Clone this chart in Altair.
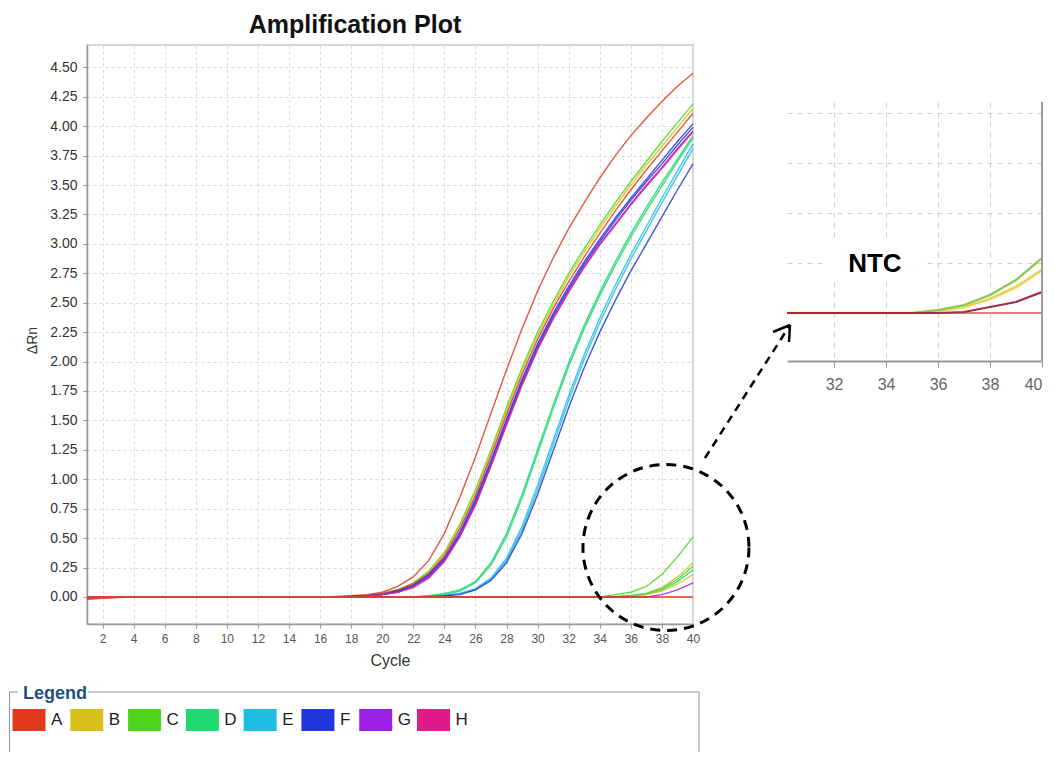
import altair as alt
import pandas as pd

# ---------------- data ----------------
cycles = list(range(1, 41))

rows = ["A", "B", "C", "D", "E", "F", "G", "H"]
row_colors = ["#e2391d", "#d7c11f", "#4fd41d", "#1fd86f", "#1dbde0", "#2036dc", "#9d20e6", "#e01b89"]

Z10 = [0, 0, 0, 0, 0, 0, 0, 0, 0, 0]  # flat baseline, read as 0.00

wells = [
    ("A1", "A", [-0.02, -0.012, -0.006, -0.002, 0, 0, 0, 0, 0, 0,
                 0, 0, 0, 0, 0, 0, 0.004, 0.01, 0.02, 0.04,
                 0.09, 0.17, 0.31, 0.54, 0.85, 1.19, 1.56, 1.93, 2.28, 2.60,
                 2.88, 3.13, 3.35, 3.56, 3.75, 3.92, 4.07, 4.21, 4.34, 4.45]),
    ("C1", "C", [-0.01, -0.005, 0, 0, 0, 0, 0, 0, 0, 0,
                 0, 0, 0, 0, 0, 0, 0, 0.005, 0.01, 0.03,
                 0.06, 0.12, 0.22, 0.38, 0.62, 0.91, 1.25, 1.61, 1.95, 2.25,
                 2.51, 2.75, 2.96, 3.16, 3.35, 3.53, 3.70, 3.87, 4.03, 4.19]),
    ("B1", "B", [0, 0, 0.004, 0.005, 0.003, 0, 0, 0, 0, 0,
                 0, 0, 0, 0, 0, 0, 0, 0.005, 0.01, 0.03,
                 0.06, 0.11, 0.21, 0.37, 0.60, 0.89, 1.23, 1.58, 1.92, 2.22,
                 2.48, 2.72, 2.93, 3.13, 3.32, 3.50, 3.67, 3.83, 3.99, 4.15]),
    ("A2", "A", [-0.015, -0.008, -0.003, 0, 0, 0, 0, 0, 0, 0,
                 0, 0, 0, 0, 0, 0, 0, 0.005, 0.01, 0.03,
                 0.06, 0.11, 0.20, 0.35, 0.58, 0.86, 1.20, 1.55, 1.89, 2.19,
                 2.45, 2.68, 2.89, 3.09, 3.28, 3.46, 3.63, 3.79, 3.95, 4.11]),
    ("F1", "F", Z10 + [0, 0, 0, 0, 0, 0, 0, 0.004, 0.01, 0.02,
                       0.05, 0.10, 0.19, 0.33, 0.55, 0.83, 1.16, 1.51, 1.85, 2.15,
                       2.41, 2.64, 2.85, 3.04, 3.22, 3.39, 3.55, 3.71, 3.87, 4.02]),
    ("F2", "F", Z10 + [0, 0, 0, 0, 0, 0, 0, 0.004, 0.01, 0.02,
                       0.05, 0.09, 0.18, 0.32, 0.53, 0.81, 1.14, 1.49, 1.83, 2.13,
                       2.39, 2.62, 2.83, 3.02, 3.20, 3.37, 3.53, 3.68, 3.84, 3.99]),
    ("G1", "G", Z10 + [0, 0, 0, 0, 0, 0, 0, 0.003, 0.008, 0.02,
                       0.04, 0.09, 0.17, 0.31, 0.52, 0.79, 1.12, 1.47, 1.81, 2.11,
                       2.37, 2.60, 2.81, 3.00, 3.17, 3.34, 3.50, 3.65, 3.81, 3.96]),
    ("H1", "H", Z10 + [0, 0, 0, 0, 0, 0, 0, 0.003, 0.008, 0.02,
                       0.04, 0.08, 0.16, 0.30, 0.51, 0.78, 1.11, 1.46, 1.80, 2.10,
                       2.36, 2.59, 2.80, 2.99, 3.16, 3.33, 3.49, 3.64, 3.80, 3.95]),
    ("D1", "D", Z10 + Z10 + [0, 0, 0.01, 0.03, 0.06, 0.13, 0.29, 0.54, 0.87, 1.25,
                             1.63, 1.99, 2.31, 2.59, 2.85, 3.09, 3.31, 3.52, 3.72, 3.92]),
    ("D2", "D", Z10 + Z10 + [0, 0, 0.01, 0.02, 0.05, 0.12, 0.27, 0.51, 0.84, 1.22,
                             1.60, 1.96, 2.28, 2.56, 2.82, 3.06, 3.28, 3.49, 3.70, 3.90]),
    ("E1", "E", Z10 + Z10 + [0, 0, 0, 0.01, 0.03, 0.07, 0.16, 0.33, 0.60, 0.95,
                             1.33, 1.71, 2.06, 2.37, 2.65, 2.91, 3.15, 3.39, 3.62, 3.85]),
    ("E2", "E", Z10 + Z10 + [0, 0, 0, 0.01, 0.03, 0.06, 0.15, 0.31, 0.57, 0.91,
                             1.29, 1.67, 2.02, 2.33, 2.61, 2.87, 3.11, 3.35, 3.58, 3.81]),
    ("F3", "F", Z10 + Z10 + [0, 0, 0, 0.01, 0.02, 0.06, 0.14, 0.29, 0.54, 0.87,
                             1.24, 1.61, 1.95, 2.25, 2.52, 2.77, 3.00, 3.23, 3.46, 3.68]),
    ("C3", "C", Z10 + Z10 + Z10 + [0, 0, 0, 0, 0.02, 0.04, 0.09, 0.19, 0.34, 0.51]),
    ("B3", "B", Z10 + Z10 + Z10 + [0, 0, 0, 0, 0.005, 0.01, 0.03, 0.08, 0.17, 0.29]),
    ("C4", "C", Z10 + Z10 + Z10 + [0, 0, 0, 0, 0, 0.01, 0.03, 0.07, 0.15, 0.26]),
    ("D3", "D", Z10 + Z10 + Z10 + [0, 0, 0, 0, 0, 0.01, 0.02, 0.06, 0.13, 0.23]),
    ("B4", "B", Z10 + Z10 + Z10 + [0, 0, 0, 0, 0, 0.005, 0.02, 0.05, 0.11, 0.19]),
    ("G3", "G", Z10 + Z10 + Z10 + [0, 0, 0, 0, 0, 0, 0, 0.02, 0.06, 0.12]),
]
flat_well = ("A3", "A", Z10 + Z10 + Z10 + Z10)

x_ticks = [2, 4, 6, 8, 10, 12, 14, 16, 18, 20, 22, 24, 26, 28, 30, 32, 34, 36, 38, 40]
y_ticks = [0.00, 0.25, 0.50, 0.75, 1.00, 1.25, 1.50, 1.75, 2.00, 2.25, 2.50,
           2.75, 3.00, 3.25, 3.50, 3.75, 4.00, 4.25, 4.50]

# zoomed NTC inset (cycles 30..40)
inset_cycles = [30, 31, 32, 33, 34, 35, 36, 37, 38, 39, 40]
inset_series = ["flat", "yellow", "green", "darkred"]
inset_colors = ["#e08080", "#e2cf55", "#86c94e", "#9c2f45"]
inset_values = {
    "flat":    [0, 0, 0, 0, 0, 0, 0, 0, 0, 0, 0],
    "yellow":  [0, 0, 0, 0, 0, 0, 0.01, 0.03, 0.07, 0.13, 0.215],
    "green":   [0, 0, 0, 0, 0, 0, 0.015, 0.04, 0.09, 0.165, 0.275],
    "darkred": [0, 0, 0, 0, 0, 0, 0, 0.005, 0.03, 0.055, 0.105],
}
inset_x_ticks = [32, 34, 36, 38, 40]
inset_y_ticks = [0, 0.25, 0.5, 0.75, 1.0]

# annotation anchors (data coordinates)
ntc_circle = {"cycle": 38.26, "drn": 0.42}
ntc_label = {"cycle": 33.57, "drn": 0.205}

# ---------------- tables ----------------
recs = []
for name, row, vals in wells:
    assert len(vals) == 40
    for c, v in zip(cycles, vals):
        recs.append({"well": name, "row": row, "cycle": c, "drn": v})
main_df = pd.DataFrame(recs)
flat_df = pd.DataFrame({"well": flat_well[0], "row": flat_well[1], "cycle": cycles, "drn": flat_well[2]})

inset_recs = []
for s in inset_series:
    for c, v in zip(inset_cycles, inset_values[s]):
        inset_recs.append({"series": s, "cycle": c, "drn": v})
inset_df = pd.DataFrame(inset_recs)

legend_df = pd.DataFrame({"row": rows})
one = pd.DataFrame({"k": [0]})

FONT = "Liberation Sans"

# ---------------- main plot ----------------
x_scale = alt.Scale(domain=[1, 40], nice=False, zero=False)
y_scale = alt.Scale(domain=[-0.23, 4.69], nice=False, zero=False)
color_scale = alt.Scale(domain=rows, range=row_colors)

x_axis = alt.Axis(values=x_ticks, title="Cycle", labelFontSize=12, labelColor="#555555",
                  labelPadding=5, labelFlush=False, labelOverlap=False, labelBound=False,
                  tickSize=4, tickColor="#999999", domainColor="#999999", domainWidth=1.5,
                  gridColor="#dadada", gridDash=[3, 3],
                  titleFontSize=16, titleFontWeight="normal", titleColor="#333333",
                  titleX=303, titleY=36, titleBaseline="middle", titleAlign="center")
y_axis = alt.Axis(values=y_ticks, format=".2f", title="ΔRn", labelFontSize=14, labelColor="#333333",
                  labelPadding=6, labelOverlap=False, tickSize=4, tickColor="#999999",
                  domainColor="#999999", domainWidth=1.5, gridColor="#dadada", gridDash=[3, 3],
                  titleFontSize=14, titleFontWeight="normal", titleColor="#333333",
                  titleX=-55, titleY=295, titleAngle=270, titleBaseline="middle", titleAlign="center")

X_MAIN = alt.X("cycle:Q", scale=x_scale, axis=x_axis)
Y_MAIN = alt.Y("drn:Q", scale=y_scale, axis=y_axis)

curves = alt.Chart(main_df).mark_line(strokeWidth=1.4, opacity=0.85).encode(
    x=X_MAIN, y=Y_MAIN,
    color=alt.Color("row:N", scale=color_scale, legend=None),
    detail="well:N",
)
flat = alt.Chart(flat_df).mark_line(strokeWidth=1.6).encode(
    x=X_MAIN, y=Y_MAIN,
    color=alt.Color("row:N", scale=color_scale, legend=None),
)
circle = alt.Chart(pd.DataFrame([ntc_circle])).mark_point(
    shape="circle", filled=False, size=27556, color="black", strokeWidth=3,
    strokeDash=[10, 7], opacity=1
).encode(x=X_MAIN, y=Y_MAIN)


def seg(x1, y1, x2, y2, color="black", width=2.5, dash=None):
    kw = {"color": color, "strokeWidth": width}
    if dash:
        kw["strokeDash"] = dash
    return alt.Chart(one).mark_rule(**kw).encode(
        x=alt.value(x1), y=alt.value(y1), x2=alt.value(x2), y2=alt.value(y2))


arrow = [
    seg(618, 413, 703, 280, dash=[8, 6]),
    seg(703, 280, 686, 287),
    seg(703, 280, 702, 297),
]
FRAME = "#8596ab"
frame = [
    seg(-77.5, 647, -77.5, 707, color=FRAME, width=1),
    seg(-77.5, 647, -69, 647, color=FRAME, width=1),
    seg(1, 647, 612, 647, color=FRAME, width=1),
    seg(612, 647, 612, 707, color=FRAME, width=1),
]
legend_title = alt.Chart(one).mark_text(
    text="Legend", align="left", baseline="middle", fontSize=18, fontWeight="bold",
    color="#1f4f7f", font=FONT
).encode(x=alt.value(-64), y=alt.value(648.5))

plot_title = alt.Chart(one).mark_text(
    text="Amplification Plot", align="center", baseline="alphabetic", fontSize=25,
    fontWeight="bold", color="#111111", font=FONT
).encode(x=alt.value(268), y=alt.value(-12))

sw_x = alt.X("row:N", scale=alt.Scale(type="point", domain=rows, range=[-58, 346.5], padding=0), axis=None)
swatches = alt.Chart(legend_df).mark_point(
    shape="M-1,-0.667H1V0.667H-1Z", filled=True, size=1089, opacity=1, strokeWidth=0
).encode(x=sw_x, y=alt.value(675), color=alt.Color("row:N", scale=color_scale, legend=None))
swatch_labels = alt.Chart(legend_df).mark_text(
    align="left", baseline="middle", dx=22, fontSize=17, color="#222222",
    font="Liberation Sans Narrow, Liberation Sans"
).encode(x=sw_x, y=alt.value(675), text="row:N")

plot_layer = alt.layer(curves, flat, circle, *arrow, *frame, legend_title, plot_title)
legend_layer = alt.layer(swatches, swatch_labels)

main_chart = alt.layer(plot_layer, legend_layer).resolve_scale(x="independent").properties(
    width=606, height=579,
    view=alt.ViewBackground(stroke="#c8c8c8", strokeWidth=1.5),
)

# ---------------- inset ----------------
ix_scale = alt.Scale(domain=[30.19, 40], nice=False, zero=False)
iy_scale = alt.Scale(domain=[-0.24, 1.055], nice=False, zero=False)
ix_axis = alt.Axis(values=inset_x_ticks, title=None, labelFontSize=16, labelColor="#666666",
                   labelFlush=True, labelOverlap=False, labelPadding=9, tickSize=6,
                   tickColor="#999999", domainColor="#999999", domainWidth=2,
                   gridColor="#cfcfcf", gridDash=[5, 5])
iy_axis = alt.Axis(values=inset_y_ticks, title=None, labels=False, ticks=False, domain=False,
                   gridColor="#cfcfcf", gridDash=[5, 5])
stroke_scale = alt.Scale(domain=inset_series, range=inset_colors)

X_IN = alt.X("cycle:Q", scale=ix_scale, axis=ix_axis)
Y_IN = alt.Y("drn:Q", scale=iy_scale, axis=iy_axis)

inset_halo = alt.Chart(inset_df).transform_filter(alt.datum.series == "yellow").mark_line(
    strokeWidth=5, opacity=0.35, clip=True, color="#efe27a"
).encode(x=X_IN, y=Y_IN)
inset_lines = alt.Chart(inset_df).mark_line(strokeWidth=2.2, clip=True).encode(
    x=X_IN, y=Y_IN,
    stroke=alt.Stroke("series:N", scale=stroke_scale, legend=None),
    detail="series:N",
)
ntc_box = alt.Chart(one).mark_rect(color="white").encode(
    x=alt.datum(31.73), x2=alt.datum(35.42), y=alt.datum(0.165), y2=alt.datum(0.38))
ntc_text = alt.Chart(pd.DataFrame([ntc_label])).mark_text(
    text="NTC", fontSize=26, fontWeight="bold", color="#000000", font=FONT,
    align="center", baseline="alphabetic"
).encode(x=X_IN, y=Y_IN)
inset_border = alt.Chart(one).mark_rule(color="#9a9a9a", strokeWidth=2).encode(x=alt.datum(40))

inset_chart = alt.layer(inset_halo, inset_lines, ntc_box, ntc_text, inset_border).properties(
    width=255, height=259, view=alt.ViewBackground(stroke="transparent"))

spacer = alt.Chart(one).mark_point(opacity=0).properties(
    width=255, height=47, view=alt.ViewBackground(stroke="transparent"))

right_col = alt.vconcat(spacer, inset_chart, spacing=10, bounds="flush")

chart = alt.hconcat(main_chart, right_col, spacing=94, bounds="flush").properties(
    padding={"left": 0, "top": 4, "right": 0, "bottom": 0}
).configure(font=FONT).configure_axis(labelOverlap=False)

chart.save("out.html", embed_options={"renderer": "svg", "actions": False})
